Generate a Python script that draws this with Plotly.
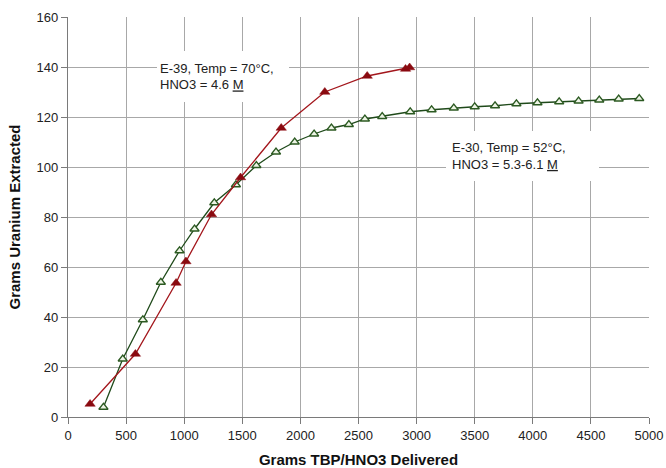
import plotly.graph_objects as go

# E-39, 70 C, HNO3 4.6 M
e39_x = [190, 580, 930, 1015, 1235, 1485, 1835, 2210, 2575, 2905, 2940]
e39_y = [5.2, 25.2, 53.6, 62.2, 81.0, 95.8, 115.6, 130.0, 136.4, 139.2, 139.8]

# E-30, 52 C, HNO3 5.3-6.1 M
e30_x = [305, 471, 644, 799, 960, 1089, 1259, 1445, 1621, 1790, 1951, 2118,
         2267, 2417, 2555, 2704, 2945, 3129, 3320, 3500, 3675, 3859, 4040,
         4227, 4394, 4572, 4739, 4916]
e30_y = [3.9, 23.2, 38.9, 53.9, 66.5, 75.2, 85.7, 92.9, 100.6, 106.0, 110.0,
         113.2, 115.6, 117.0, 119.2, 120.2, 122.1, 122.9, 123.6, 124.1, 124.5,
         125.3, 125.7, 126.1, 126.4, 126.8, 127.2, 127.4]

label_e39 = "E-39, Temp = 70°C,<br>HNO3 = 4.6 <u>M</u>"
label_e30 = "E-30, Temp = 52°C,<br>HNO3 = 5.3-6.1 <u>M</u>"

fig = go.Figure()

fig.add_trace(go.Scatter(
    x=e30_x, y=e30_y, mode="lines+markers",
    line=dict(color="#1f4a1a", width=1.3),
    marker=dict(symbol="triangle-up", size=8, color="#eef5e6",
                line=dict(color="#2c5a22", width=1.3)),
    showlegend=False))

fig.add_trace(go.Scatter(
    x=e39_x, y=e39_y, mode="lines+markers",
    line=dict(color="#a3161c", width=1.3),
    marker=dict(symbol="triangle-up", size=9, color="#8a0a10",
                line=dict(color="#8a0a10", width=0.5)),
    showlegend=False))

fig.add_annotation(x=1336, y=136.3, xref="x", yref="y", text=label_e39,
                   showarrow=False, align="left", xanchor="center", yanchor="middle",
                   width=126, height=45, borderpad=3, borderwidth=0,
                   bgcolor="white", font=dict(size=13, color="#222"))
fig.add_annotation(x=3909, y=104.3, xref="x", yref="y", text=label_e30,
                   showarrow=False, align="left", xanchor="center", yanchor="middle",
                   width=141, height=38, borderpad=6, borderwidth=0,
                   bgcolor="white", font=dict(size=13, color="#222"))

fig.update_xaxes(range=[0, 5000], dtick=500, showgrid=True, gridcolor="#a8a8a8",
                 gridwidth=1, showline=True, linecolor="#7a7a7a", linewidth=1.3,
                 ticks="outside", ticklen=6, tickcolor="#7a7a7a", zeroline=False,
                 tickfont=dict(size=13, color="#222"),
                 title=dict(text="<b>Grams TBP/HNO3 Delivered</b>", standoff=15,
                            font=dict(size=15, color="#111")))
fig.update_yaxes(range=[0, 160], dtick=20, showgrid=True, gridcolor="#a8a8a8",
                 gridwidth=1, showline=True, linecolor="#7a7a7a", linewidth=1.3,
                 ticks="outside", ticklen=6, tickcolor="#7a7a7a", zeroline=False,
                 tickfont=dict(size=13, color="#222"),
                 title=dict(text="<b>Grams Uranium Extracted</b>", standoff=12,
                            font=dict(size=15, color="#111")))

fig.update_layout(width=666, height=468, plot_bgcolor="white", paper_bgcolor="white",
                  margin=dict(l=68, r=17, t=17, b=51, autoexpand=False),
                  font=dict(family="Liberation Sans, Arial, sans-serif"))

# page body has a default 8px margin, drop it so the figure sits at 0,0
fig.write_html("out.html", config={"displayModeBar": False},
               post_script="document.body.style.margin='0';")
